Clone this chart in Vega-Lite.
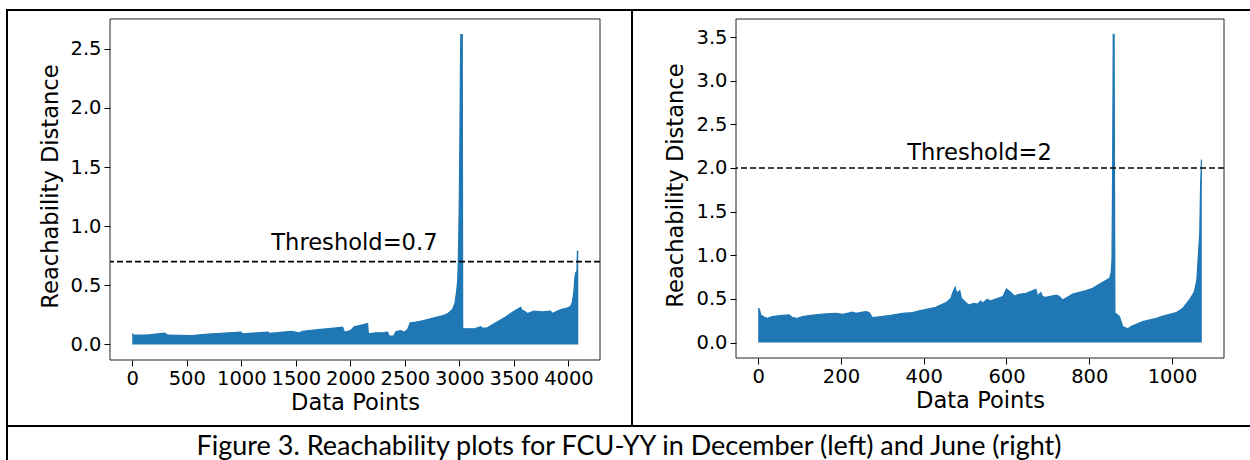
{
  "$schema": "https://vega.github.io/schema/vega-lite/v6.json",
  "padding": {"left": 6, "top": 9, "right": 0, "bottom": 0},
  "background": "white",
  "config": {
    "font": "DejaVu Sans",
    "axis": {"grid": false, "domain": false, "tickColor": "black", "tickSize": 6, "tickWidth": 1, "labelFont": "DejaVu Sans", "labelFontSize": 19.5, "labelColor": "black", "labelPadding": 3, "titleFont": "DejaVu Sans", "titleFontSize": 22.6, "titleFontWeight": "normal", "titleColor": "black"}
  },
  "spacing": -3,
  "vconcat": [
    {"width": 1242, "height": 0.01, "view": {"stroke": "black", "strokeWidth": 2, "fill": null}, "data": {"values": []}, "mark": {"type": "text"}, "encoding": {}},
    {
      "spacing": 30,
      "hconcat": [
        {"width": 0.01, "height": 413, "view": {"stroke": "black", "strokeWidth": 2, "fill": null}, "data": {"values": []}, "mark": {"type": "text"}, "encoding": {}},
        {
          "width": 490, "height": 348,
          "view": {"stroke": null, "fill": null},
          "data": {"values": [
            {"x": 0, "y": 0.093}, {"x": 8, "y": 0.08}, {"x": 60, "y": 0.079}, {"x": 150, "y": 0.082}, {"x": 296, "y": 0.096}, {"x": 327, "y": 0.079},
            {"x": 540, "y": 0.076}, {"x": 700, "y": 0.088}, {"x": 850, "y": 0.097}, {"x": 998, "y": 0.104}, {"x": 1010, "y": 0.09}, {"x": 1243, "y": 0.104},
            {"x": 1260, "y": 0.095}, {"x": 1334, "y": 0.1}, {"x": 1456, "y": 0.112}, {"x": 1532, "y": 0.099}, {"x": 1560, "y": 0.112}, {"x": 1700, "y": 0.125},
            {"x": 1850, "y": 0.138}, {"x": 1929, "y": 0.146}, {"x": 1945, "y": 0.104}, {"x": 1980, "y": 0.112}, {"x": 2006, "y": 0.121}, {"x": 2036, "y": 0.149},
            {"x": 2100, "y": 0.165}, {"x": 2158, "y": 0.178}, {"x": 2165, "y": 0.09}, {"x": 2234, "y": 0.099}, {"x": 2300, "y": 0.1}, {"x": 2341, "y": 0.104},
            {"x": 2356, "y": 0.07}, {"x": 2396, "y": 0.07}, {"x": 2418, "y": 0.11}, {"x": 2463, "y": 0.118}, {"x": 2494, "y": 0.104}, {"x": 2525, "y": 0.127},
            {"x": 2549, "y": 0.183}, {"x": 2600, "y": 0.19}, {"x": 2662, "y": 0.2}, {"x": 2768, "y": 0.226}, {"x": 2850, "y": 0.245}, {"x": 2891, "y": 0.259},
            {"x": 2937, "y": 0.296}, {"x": 2960, "y": 0.35}, {"x": 2976, "y": 0.46}, {"x": 2985, "y": 0.55}, {"x": 2991, "y": 0.75}, {"x": 2998, "y": 1.15},
            {"x": 3004, "y": 1.7}, {"x": 3009, "y": 2.3}, {"x": 3013, "y": 2.62}, {"x": 3026, "y": 2.62}, {"x": 3030, "y": 0.14}, {"x": 3043, "y": 0.135},
            {"x": 3135, "y": 0.133}, {"x": 3196, "y": 0.15}, {"x": 3210, "y": 0.138}, {"x": 3257, "y": 0.141}, {"x": 3333, "y": 0.183}, {"x": 3420, "y": 0.23},
            {"x": 3501, "y": 0.282}, {"x": 3562, "y": 0.315}, {"x": 3575, "y": 0.29}, {"x": 3599, "y": 0.28}, {"x": 3601, "y": 0.24}, {"x": 3604, "y": 0.275},
            {"x": 3624, "y": 0.262}, {"x": 3684, "y": 0.282}, {"x": 3760, "y": 0.275}, {"x": 3837, "y": 0.282}, {"x": 3850, "y": 0.262}, {"x": 3929, "y": 0.296},
            {"x": 3980, "y": 0.305}, {"x": 4020, "y": 0.324}, {"x": 4036, "y": 0.358}, {"x": 4050, "y": 0.45}, {"x": 4060, "y": 0.577}, {"x": 4066, "y": 0.606},
            {"x": 4078, "y": 0.62}, {"x": 4082, "y": 0.789}, {"x": 4090, "y": 0.789}
          ]},
          "layer": [
            {"mark": {"type": "area", "color": "#1f77b4"},
             "encoding": {
               "x": {"field": "x", "type": "quantitative", "scale": {"domain": [-204.25, 4289.25], "nice": false, "zero": false}, "axis": {"values": [0, 500, 1000, 1500, 2000, 2500, 3000, 3500, 4000], "format": "d", "title": "Data Points", "titlePadding": 4}},
               "y": {"field": "y", "type": "quantitative", "scale": {"domain": [-0.131, 2.81], "nice": false}, "axis": {"values": [0, 0.5, 1, 1.5, 2, 2.5], "format": ".1f", "title": "Reachability Distance", "titlePadding": 7}}}},
            {"mark": {"type": "line", "color": "#1f77b4", "strokeWidth": 1.2},
             "encoding": {
               "x": {"field": "x", "type": "quantitative", "title": "Data Points"},
               "y": {"field": "y", "type": "quantitative", "title": "Reachability Distance"}}},
            {"data": {"values": [{}]}, "mark": {"type": "rule", "color": "black", "strokeWidth": 1.6, "strokeDash": [6, 3]}, "encoding": {"y": {"datum": 0.7}}},
            {"data": {"values": [{"label": "Threshold=0.7"}]}, "mark": {"type": "text", "align": "left", "baseline": "alphabetic", "fontSize": 22.6, "font": "DejaVu Sans", "color": "black"}, "encoding": {"x": {"datum": 1275}, "y": {"datum": 0.8}, "text": {"field": "label"}}},
            {"data": {"values": [{}]}, "mark": {"type": "rect", "fill": null, "stroke": "#222", "strokeWidth": 1}, "encoding": {"x": {"datum": -204.25}, "x2": {"datum": 4289.25}, "y": {"datum": -0.131}, "y2": {"datum": 2.751}}}
          ]
        },
        {"width": 0.01, "height": 413, "view": {"stroke": "black", "strokeWidth": 2, "fill": null}, "data": {"values": []}, "mark": {"type": "text"}, "encoding": {}},
        {
          "width": 488, "height": 346,
          "view": {"stroke": null, "fill": null},
          "data": {"values": [
            {"x": 0, "y": 0.393}, {"x": 3, "y": 0.38}, {"x": 6, "y": 0.317}, {"x": 15, "y": 0.29}, {"x": 22, "y": 0.279}, {"x": 34, "y": 0.298},
            {"x": 58, "y": 0.313}, {"x": 75, "y": 0.317}, {"x": 83, "y": 0.286}, {"x": 95, "y": 0.279}, {"x": 107, "y": 0.298}, {"x": 123, "y": 0.309},
            {"x": 155, "y": 0.325}, {"x": 188, "y": 0.336}, {"x": 204, "y": 0.325}, {"x": 228, "y": 0.348}, {"x": 236, "y": 0.336}, {"x": 260, "y": 0.355},
            {"x": 268, "y": 0.344}, {"x": 276, "y": 0.286}, {"x": 317, "y": 0.309}, {"x": 349, "y": 0.336}, {"x": 373, "y": 0.344}, {"x": 389, "y": 0.363},
            {"x": 429, "y": 0.405}, {"x": 454, "y": 0.458}, {"x": 466, "y": 0.508}, {"x": 470, "y": 0.572}, {"x": 476, "y": 0.634}, {"x": 480, "y": 0.565},
            {"x": 484, "y": 0.583}, {"x": 487, "y": 0.595}, {"x": 491, "y": 0.508}, {"x": 502, "y": 0.458}, {"x": 508, "y": 0.431}, {"x": 522, "y": 0.45},
            {"x": 530, "y": 0.44}, {"x": 538, "y": 0.477}, {"x": 542, "y": 0.45}, {"x": 554, "y": 0.496}, {"x": 560, "y": 0.477}, {"x": 591, "y": 0.526},
            {"x": 600, "y": 0.614}, {"x": 611, "y": 0.572}, {"x": 619, "y": 0.534}, {"x": 631, "y": 0.553}, {"x": 647, "y": 0.565}, {"x": 667, "y": 0.603},
            {"x": 671, "y": 0.61}, {"x": 675, "y": 0.534}, {"x": 683, "y": 0.572}, {"x": 687, "y": 0.526}, {"x": 695, "y": 0.519}, {"x": 720, "y": 0.545},
            {"x": 726, "y": 0.534}, {"x": 736, "y": 0.488}, {"x": 760, "y": 0.557}, {"x": 792, "y": 0.595}, {"x": 808, "y": 0.622}, {"x": 849, "y": 0.736},
            {"x": 853, "y": 0.8}, {"x": 855, "y": 0.95}, {"x": 856.5, "y": 2.0}, {"x": 858, "y": 3.53}, {"x": 860, "y": 3.53}, {"x": 862, "y": 0.336},
            {"x": 865, "y": 0.33}, {"x": 873, "y": 0.298}, {"x": 881, "y": 0.183}, {"x": 893, "y": 0.157}, {"x": 901, "y": 0.183}, {"x": 929, "y": 0.24},
            {"x": 962, "y": 0.279}, {"x": 978, "y": 0.305}, {"x": 1010, "y": 0.343}, {"x": 1026, "y": 0.393}, {"x": 1042, "y": 0.488}, {"x": 1054, "y": 0.583},
            {"x": 1060, "y": 0.717}, {"x": 1063, "y": 0.946}, {"x": 1067, "y": 1.25}, {"x": 1069, "y": 1.78}, {"x": 1071, "y": 2.09}, {"x": 1072, "y": 2.09}
          ]},
          "layer": [
            {"mark": {"type": "area", "color": "#1f77b4"},
             "encoding": {
               "x": {"field": "x", "type": "quantitative", "scale": {"domain": [-53.6, 1125.6], "nice": false, "zero": false}, "axis": {"values": [0, 200, 400, 600, 800, 1000], "format": "d", "title": "Data Points", "titlePadding": 4}},
               "y": {"field": "y", "type": "quantitative", "scale": {"domain": [-0.1765, 3.787], "nice": false}, "axis": {"values": [0, 0.5, 1, 1.5, 2, 2.5, 3, 3.5], "format": ".1f", "title": "Reachability Distance", "titlePadding": 8}}}},
            {"mark": {"type": "line", "color": "#1f77b4", "strokeWidth": 1.2},
             "encoding": {
               "x": {"field": "x", "type": "quantitative", "title": "Data Points"},
               "y": {"field": "y", "type": "quantitative", "title": "Reachability Distance"}}},
            {"data": {"values": [{}]}, "mark": {"type": "rule", "color": "black", "strokeWidth": 1.6, "strokeDash": [6, 3]}, "encoding": {"y": {"datum": 2}}},
            {"data": {"values": [{"label": "Threshold=2"}]}, "mark": {"type": "text", "align": "left", "baseline": "alphabetic", "fontSize": 22.6, "font": "DejaVu Sans", "color": "black"}, "encoding": {"x": {"datum": 360}, "y": {"datum": 2.09}, "text": {"field": "label"}}},
            {"data": {"values": [{}]}, "mark": {"type": "rect", "fill": null, "stroke": "#222", "strokeWidth": 1}, "encoding": {"x": {"datum": -53.6}, "x2": {"datum": 1125.6}, "y": {"datum": -0.1765}, "y2": {"datum": 3.7065}}}
          ]
        }
      ]
    },
    {"width": 1242, "height": 0.01, "view": {"stroke": "black", "strokeWidth": 2, "fill": null}, "data": {"values": []}, "mark": {"type": "text"}, "encoding": {}},
    {
      "spacing": 0,
      "hconcat": [
        {"width": 0.01, "height": 31, "view": {"stroke": "black", "strokeWidth": 2, "fill": null}, "data": {"values": []}, "mark": {"type": "text"}, "encoding": {}},
        {"width": 1240, "height": 31, "view": {"stroke": null, "fill": null},
         "data": {"values": [{"caption": "Figure 3. Reachability plots for FCU-YY in December (left) and June (right)"}]},
         "mark": {"type": "text", "font": "Lato", "fontSize": 27, "color": "black", "baseline": "alphabetic", "align": "center", "dy": 11.5},
         "encoding": {"text": {"field": "caption"}}}
      ]
    }
  ]
}
